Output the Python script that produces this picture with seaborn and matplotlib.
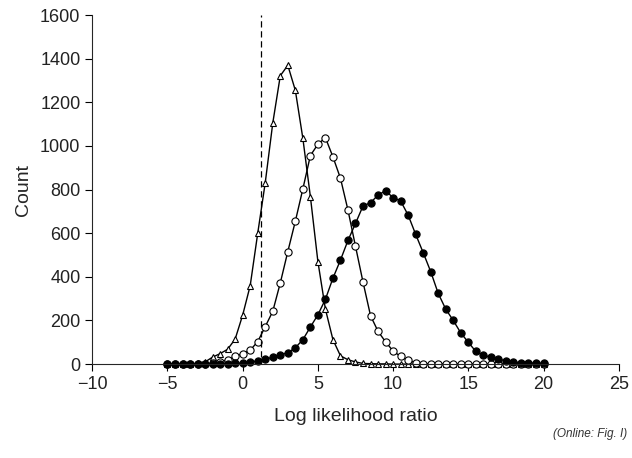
import numpy as np
import pandas as pd
import matplotlib
matplotlib.use("Agg")
import matplotlib.pyplot as plt
import seaborn as sns

# log likelihood ratio bins (step 0.5)
llr = [-5.0, -4.5, -4.0, -3.5, -3.0, -2.5, -2.0, -1.5, -1.0, -0.5,
       0.0, 0.5, 1.0, 1.5, 2.0, 2.5, 3.0, 3.5, 4.0, 4.5,
       5.0, 5.5, 6.0, 6.5, 7.0, 7.5, 8.0, 8.5, 9.0, 9.5,
       10.0, 10.5, 11.0, 11.5, 12.0, 12.5, 13.0, 13.5, 14.0, 14.5,
       15.0, 15.5, 16.0, 16.5, 17.0, 17.5, 18.0, 18.5, 19.0, 19.5, 20.0]

tri_counts = [0, 0, 0, 1, 3, 10, 32, 48, 68, 115,
              225, 360, 600, 832, 1105, 1322, 1370, 1255, 1035, 768,
              470, 252, 112, 38, 20, 10, 3, 2, 1, 1,
              0, 0, 0, 0, 0, 0, 0, 0, 0, 0,
              0, 0, 0, 0, 0, 0, 0, 0, 0, 0, 0]

open_counts = [0, 0, 0, 0, 1, 2, 4, 10, 20, 35,
               48, 64, 103, 172, 242, 372, 516, 655, 803, 956,
               1008, 1038, 950, 852, 706, 540, 376, 222, 150, 102,
               60, 35, 17, 6, 2, 1, 1, 0, 0, 0,
               0, 0, 0, 0, 0, 0, 0, 0, 0, 0, 0]

filled_counts = [0, 0, 0, 0, 0, 0, 1, 1, 2, 3,
                 5, 9, 15, 23, 31, 43, 52, 75, 112, 170,
                 226, 297, 394, 477, 567, 645, 725, 740, 775, 795,
                 763, 748, 683, 595, 511, 424, 324, 252, 200, 143,
                 100, 58, 41, 31, 23, 15, 9, 7, 5, 4, 3]

threshold = 1.2

sns.set_style("ticks")
plt.rcParams["font.family"] = ["Liberation Sans", "DejaVu Sans"]
plt.rcParams["xtick.labelsize"] = 13
plt.rcParams["ytick.labelsize"] = 13
plt.rcParams["axes.labelsize"] = 14

fig = plt.figure(figsize=(6.32, 4.58), dpi=100)
ax = fig.add_axes([0.146, 0.205, 0.833, 0.762])

series = [
    (tri_counts, "^", "white", 5),
    (open_counts, "o", "white", 5.2),
    (filled_counts, "o", "black", 5.2),
]
for counts, mk, face, ms in series:
    df = pd.DataFrame({"llr": llr, "count": counts})
    sns.lineplot(data=df, x="llr", y="count", ax=ax, color="black",
                 linewidth=1.0, marker=mk, markersize=ms,
                 markerfacecolor=face, markeredgecolor="black",
                 markeredgewidth=0.8, clip_on=False)

ax.axvline(threshold, ymin=0.02, ymax=1.0, color="black", linewidth=0.9,
           linestyle=(0, (5, 3)))

ax.set_xlim(-10, 25)
ax.set_ylim(0, 1600)
ax.set_xticks(range(-10, 26, 5))
ax.set_yticks(range(0, 1601, 200))
ax.set_xlabel("Log likelihood ratio", labelpad=11)
ax.set_ylabel("Count", labelpad=6)
sns.despine(ax=ax)
ax.spines["left"].set_linewidth(0.8)
ax.spines["bottom"].set_linewidth(0.8)
ax.tick_params(axis="both", direction="out", length=5, width=0.8,
               color="black", labelcolor="#222222")

fig.text(0.993, 0.053, "(Online: Fig. I)", ha="right", va="center",
         fontsize=8.5, style="italic", color="#333333")

fig.savefig("out.png", dpi=100)
